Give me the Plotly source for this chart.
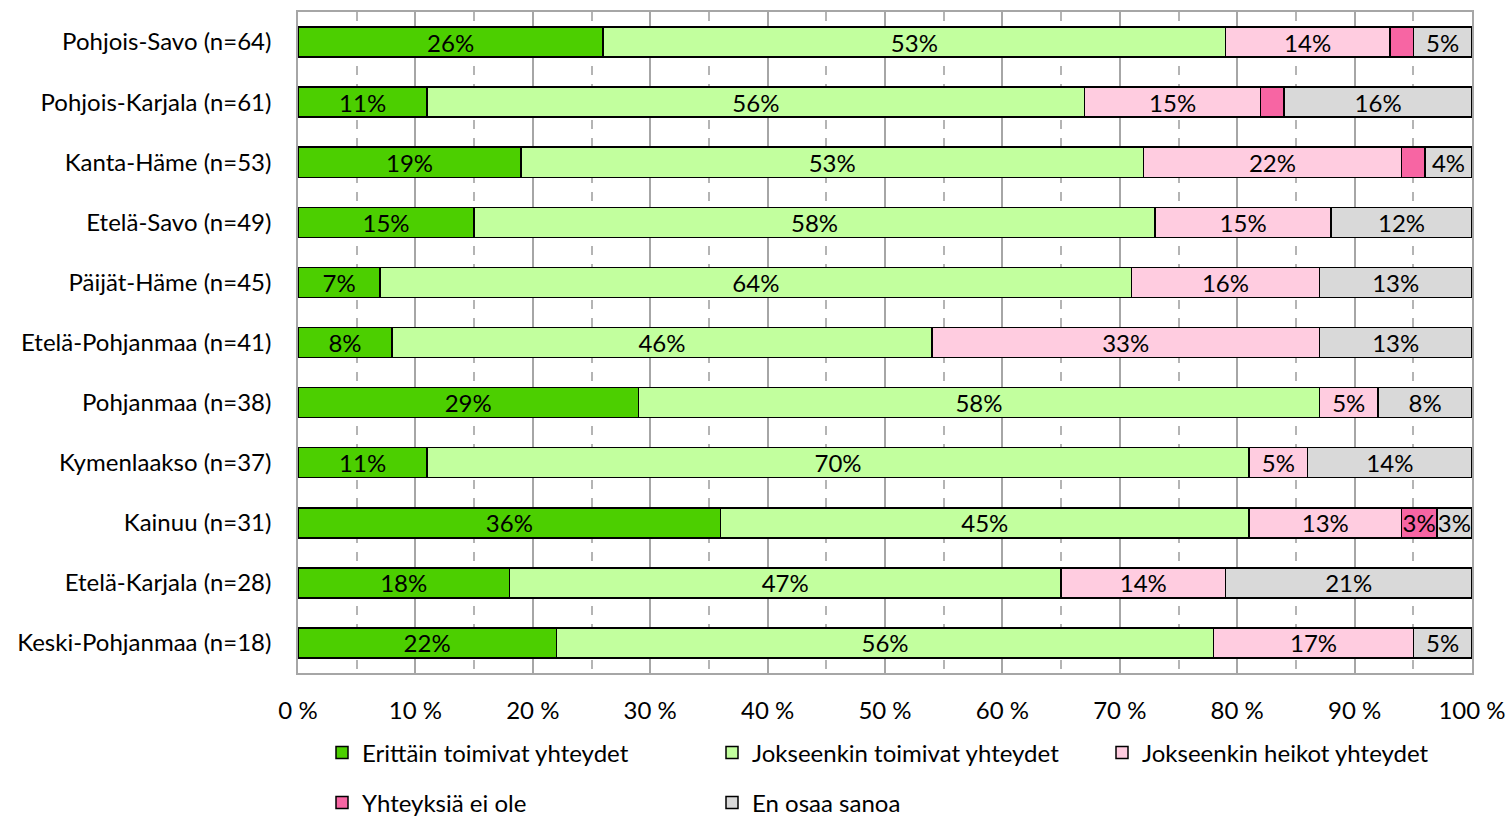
import plotly.graph_objects as go

categories = ["Pohjois-Savo (n=64)", "Pohjois-Karjala (n=61)", "Kanta-Häme (n=53)",
              "Etelä-Savo (n=49)", "Päijät-Häme (n=45)", "Etelä-Pohjanmaa (n=41)",
              "Pohjanmaa (n=38)", "Kymenlaakso (n=37)", "Kainuu (n=31)",
              "Etelä-Karjala (n=28)", "Keski-Pohjanmaa (n=18)"]

series_names = ["Erittäin toimivat yhteydet", "Jokseenkin toimivat yhteydet",
                "Jokseenkin heikot yhteydet", "Yhteyksiä ei ole", "En osaa sanoa"]

erittain = [26, 11, 19, 15, 7, 8, 29, 11, 36, 18, 22]
jokseenkin_toimivat = [53, 56, 53, 58, 64, 46, 58, 70, 45, 47, 56]
jokseenkin_heikot = [14, 15, 22, 15, 16, 33, 5, 5, 13, 14, 17]
ei_ole = [2, 2, 2, 0, 0, 0, 0, 0, 3, 0, 0]
en_osaa = [5, 16, 4, 12, 13, 13, 8, 14, 3, 21, 5]

tick_vals = [0, 10, 20, 30, 40, 50, 60, 70, 80, 90, 100]
tick_text = ["0 %", "10 %", "20 %", "30 %", "40 %", "50 %", "60 %", "70 %", "80 %", "90 %", "100 %"]

colors = ["#4CCF00", "#C2FF9E", "#FFCCE0", "#F765A3", "#D9D9D9"]
all_values = [erittain, jokseenkin_toimivat, jokseenkin_heikot, ei_ole, en_osaa]
legend_ids = ["legend", "legend", "legend", "legend2", "legend2"]

FONT = "Lato"
FS = 24
fig = go.Figure()
for name, vals, col, lg in zip(series_names, all_values, colors, legend_ids):
    texts = [f"{v}%" if v >= 3 else "" for v in vals]
    fig.add_trace(go.Bar(
        y=categories, x=vals, name=name, orientation="h", legend=lg,
        marker=dict(color=col, line=dict(color="black", width=1.5)),
        text=texts, textposition="inside", insidetextanchor="middle",
        textangle=0, textfont=dict(family=FONT, size=FS, color="black"),
        hoverinfo="skip",
    ))

W, H = 1508, 817
ML, MR, MT, MB = 298, 36, 12, 144
plot_h = H - MT - MB
plot_w = W - ML - MR

leg_common = dict(orientation="h", xanchor="left", yanchor="middle",
                  entrywidth=345, entrywidthmode="pixels", traceorder="normal",
                  font=dict(family=FONT, size=FS, color="black"),
                  itemwidth=30, bgcolor="rgba(0,0,0,0)", borderwidth=0)

fig.update_layout(
    barmode="stack", bargap=0.5,
    width=W, height=H,
    margin=dict(l=ML, r=MR, t=MT, b=MB, autoexpand=False),
    plot_bgcolor="white", paper_bgcolor="white",
    font=dict(family=FONT, size=FS, color="black"),
    uniformtext=dict(minsize=FS, mode="show"),
    legend=dict(x=(322 - ML) / plot_w, y=-(753 - (H - MB)) / plot_h, **leg_common),
    legend2=dict(x=(322 - ML) / plot_w, y=-(803 - (H - MB)) / plot_h, **leg_common),
    showlegend=True,
)
fig.update_xaxes(range=[0, 100], tickvals=tick_vals, ticktext=tick_text,
                 showgrid=True, gridcolor="#A6A6A6", gridwidth=1.5,
                 minor=dict(dtick=5, showgrid=True, gridcolor="#B4B4B4", griddash="dash", gridwidth=1.5),
                 showline=True, linecolor="#A6A6A6", mirror=True, linewidth=1.5,
                 zeroline=False, ticks="", ticklabelstandoff=15, automargin=False,
                 tickfont=dict(family=FONT, size=FS))
fig.update_yaxes(autorange="reversed", showgrid=False, showline=True, linecolor="#A6A6A6",
                 mirror=True, linewidth=1.5, ticks="", ticklabelstandoff=20, automargin=False,
                 tickfont=dict(family=FONT, size=FS))

fig.write_html("out.html", config={"displayModeBar": False},
               post_script="document.body.style.margin='0';document.body.style.overflow='hidden';")
